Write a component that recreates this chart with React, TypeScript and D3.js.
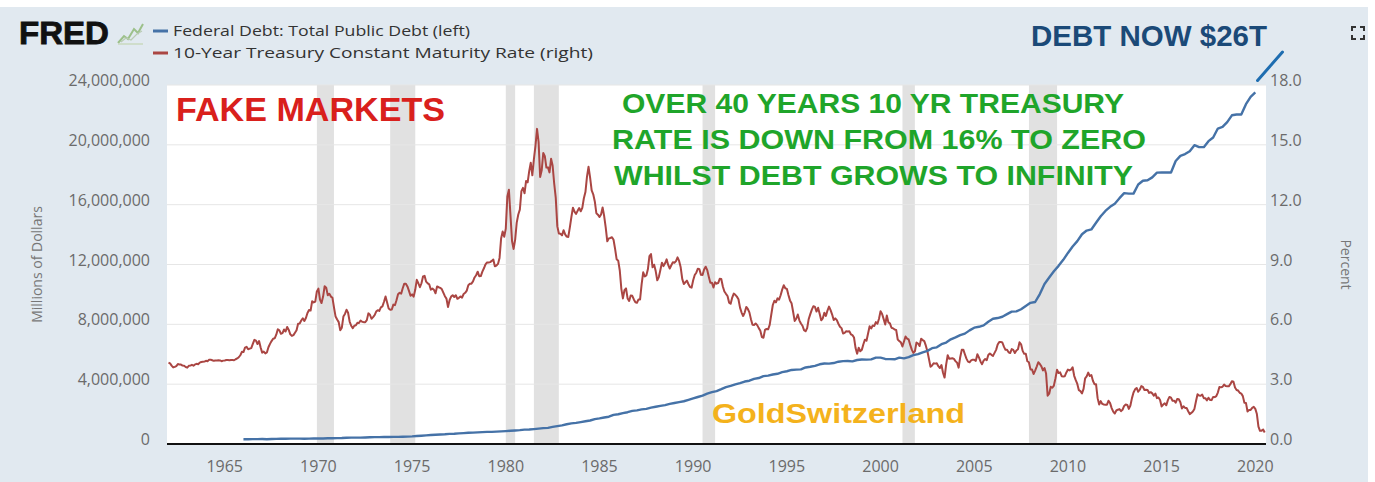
import React from 'react';
import * as d3 from 'd3';

// 10-Year Treasury Constant Maturity Rate, monthly, starting Jan 1962 (percent)
const rateStartYear = 1962;
const rate10y: number[] = [
  4.08,4.04,3.93,3.84,3.87,3.91,4.01,3.98,3.98,3.93,3.92,3.86,
  3.83,3.92,3.93,3.97,3.93,3.99,4.02,4.00,4.08,4.11,4.12,4.13,
  4.17,4.15,4.22,4.23,4.20,4.17,4.19,4.19,4.20,4.19,4.15,4.18,
  4.19,4.21,4.21,4.20,4.21,4.21,4.20,4.25,4.29,4.35,4.45,4.62,
  4.61,4.83,4.87,4.75,4.78,4.81,5.02,5.22,5.18,5.01,5.16,4.84,
  4.58,4.63,4.54,4.59,4.85,5.02,5.16,5.28,5.30,5.48,5.75,5.70,
  5.53,5.56,5.74,5.64,5.87,5.72,5.50,5.42,5.46,5.58,5.70,6.03,
  6.04,6.19,6.30,6.17,6.32,6.57,6.72,6.69,7.16,7.10,7.14,7.65,
  7.79,7.24,7.07,7.39,7.91,7.84,7.46,7.53,7.39,7.33,6.84,6.39,
  6.24,6.11,5.70,5.83,6.39,6.52,6.73,6.58,6.14,5.93,5.81,5.93,
  5.95,6.08,6.07,6.19,6.13,6.11,6.11,6.21,6.55,6.48,6.28,6.36,
  6.46,6.64,6.71,6.67,6.85,6.90,7.13,7.40,7.09,6.79,6.73,6.74,
  6.99,6.96,7.21,7.51,7.58,7.54,7.81,8.04,8.04,7.90,7.68,7.43,
  7.50,7.39,7.73,8.23,8.06,7.86,8.06,8.40,8.43,8.14,8.05,8.00,
  7.74,7.79,7.73,7.56,7.90,7.86,7.83,7.77,7.59,7.41,7.29,6.87,
  7.21,7.39,7.46,7.37,7.46,7.28,7.33,7.40,7.34,7.52,7.58,7.69,
  7.96,8.03,8.04,8.15,8.35,8.46,8.64,8.41,8.42,8.64,8.81,9.01,
  9.10,9.10,9.12,9.18,9.25,8.91,8.95,9.03,9.33,10.30,10.65,10.39,
  10.80,12.41,12.75,11.47,10.18,9.78,10.25,11.10,11.51,11.75,12.68,12.84,
  12.57,13.19,13.12,13.68,14.10,13.47,14.28,14.94,15.80,15.15,13.39,13.72,
  14.59,14.43,13.86,13.87,13.62,14.30,13.95,13.06,12.34,10.91,10.55,10.54,
  10.46,10.72,10.51,10.40,10.38,10.85,11.38,11.85,11.65,11.54,11.69,11.83,
  11.67,11.84,12.32,12.63,13.41,13.90,13.36,12.72,12.52,12.16,11.57,11.50,
  11.38,11.51,11.86,11.43,10.85,10.16,10.31,10.33,10.37,10.24,9.78,9.26,
  9.19,8.70,7.78,7.30,7.71,7.80,7.30,7.17,7.45,7.43,7.25,7.11,
  7.08,7.25,7.25,8.02,8.61,8.40,8.45,8.76,9.42,9.52,8.86,8.99,
  8.67,8.21,8.37,8.72,9.09,8.92,9.06,9.26,8.98,8.80,8.96,9.11,
  9.09,9.17,9.36,9.18,8.86,8.28,8.02,8.11,8.19,8.01,7.87,7.84,
  8.21,8.47,8.59,8.79,8.76,8.48,8.47,8.75,8.89,8.72,8.39,8.08,
  8.09,7.85,8.11,8.04,8.07,8.28,8.27,7.90,7.65,7.53,7.42,7.09,
  7.03,7.34,7.54,7.48,7.39,7.26,6.84,6.59,6.42,6.59,6.87,6.77,
  6.60,6.26,5.98,5.97,6.04,5.96,5.81,5.68,5.36,5.33,5.72,5.77,
  5.75,5.97,6.48,6.97,7.18,7.10,7.30,7.24,7.46,7.74,7.96,7.81,
  7.78,7.47,7.20,7.06,6.63,6.17,6.28,6.49,6.20,6.04,5.93,5.71,
  5.65,5.81,6.27,6.51,6.74,6.91,6.87,6.64,6.83,6.53,6.20,6.30,
  6.58,6.42,6.69,6.89,6.71,6.49,6.22,6.30,6.21,6.03,5.88,5.81,
  5.54,5.57,5.65,5.64,5.65,5.50,5.46,5.34,4.81,4.53,4.83,4.65,
  4.72,5.00,5.23,5.18,5.54,5.90,5.79,5.94,5.92,6.11,6.03,6.28,
  6.66,6.52,6.26,5.99,6.44,6.10,6.05,5.83,5.80,5.74,5.72,5.24,
  5.16,5.10,4.89,5.14,5.39,5.28,5.24,4.97,4.73,4.57,4.65,5.09,
  5.04,4.91,5.28,5.21,5.16,4.93,4.65,4.26,3.87,3.94,4.05,4.03,
  4.05,3.90,3.81,3.96,3.57,3.33,3.98,4.45,4.27,4.29,4.30,4.27,
  4.15,4.08,3.83,4.35,4.72,4.73,4.50,4.28,4.13,4.10,4.19,4.23,
  4.22,4.17,4.50,4.34,4.14,4.00,4.18,4.26,4.20,4.46,4.54,4.47,
  4.42,4.57,4.72,4.99,5.11,5.11,5.09,4.88,4.72,4.73,4.60,4.56,
  4.76,4.72,4.56,4.69,4.75,5.10,5.00,4.67,4.52,4.53,4.15,4.10,
  3.74,3.74,3.51,3.68,3.88,4.10,4.01,3.89,3.69,3.81,3.53,2.42,
  2.52,2.87,2.82,2.93,3.29,3.72,3.56,3.59,3.40,3.39,3.40,3.59,
  3.73,3.69,3.73,3.85,3.42,3.20,3.01,2.70,2.65,2.54,2.76,3.29,
  3.39,3.58,3.41,3.46,3.17,3.00,3.00,2.30,1.98,2.15,2.01,1.98,
  1.97,1.97,2.17,2.05,1.80,1.62,1.53,1.68,1.72,1.75,1.65,1.72,
  1.91,1.98,1.96,1.76,1.93,2.30,2.58,2.74,2.81,2.62,2.72,2.90,
  2.86,2.71,2.72,2.71,2.56,2.60,2.54,2.42,2.53,2.30,2.33,2.21,
  1.88,1.98,2.04,1.94,2.20,2.36,2.32,2.17,2.17,2.07,2.26,2.24,
  2.09,1.78,1.89,1.81,1.81,1.64,1.50,1.56,1.63,1.76,2.14,2.49,
  2.43,2.42,2.48,2.30,2.30,2.19,2.32,2.21,2.20,2.36,2.35,2.40,
  2.58,2.86,2.84,2.87,2.98,2.91,2.89,2.89,3.00,3.15,3.12,2.83,
  2.71,2.68,2.57,2.53,2.40,2.07,2.06,1.63,1.70,1.71,1.81,1.86,
  1.76,1.50,0.87,0.66,0.67,0.73,0.58,
];

// Federal Debt: Total Public Debt, quarterly, starting 1966 Q1 (millions of dollars)
const debtStartYear = 1966;
const debtQuarterly: number[] = [
  321000,316000,324000,329000,
  330000,322000,336000,344000,
  349000,347000,358000,359000,
  362000,353000,360000,368000,
  371000,370000,381000,389000,
  392000,398000,415000,424000,
  428000,427000,437000,449000,
  458000,458000,465000,470000,
  475000,475000,481000,493000,
  509000,533000,556000,577000,
  600000,620000,635000,653000,
  680000,685000,709000,729000,
  750000,758000,780000,797000,
  813000,812000,827000,845000,
  864000,883000,907000,930000,
  964000,970000,998000,1028000,
  1061000,1079000,1142000,1197000,
  1244000,1319000,1377000,1410000,
  1464000,1518000,1572000,1663000,
  1710000,1774000,1823000,1945000,
  1986000,2059000,2125000,2214000,
  2250000,2313000,2350000,2432000,
  2487000,2548000,2602000,2684000,
  2740000,2800000,2857000,2953000,
  3051000,3143000,3233000,3364000,
  3465000,3538000,3665000,3801000,
  3881000,3984000,4065000,4177000,
  4231000,4352000,4411000,4536000,
  4575000,4646000,4693000,4801000,
  4864000,4951000,4974000,4989000,
  5117000,5162000,5225000,5328000,
  5380000,5376000,5413000,5502000,
  5542000,5548000,5526000,5614000,
  5651000,5638000,5656000,5776000,
  5773000,5685000,5674000,5662000,
  5773000,5726000,5807000,5943000,
  6006000,6126000,6228000,6405000,
  6460000,6670000,6783000,6998000,
  7131000,7274000,7379000,7596000,
  7777000,7836000,7933000,8170000,
  8371000,8420000,8507000,8680000,
  8849000,8868000,9007000,9229000,
  9437000,9492000,10025000,10700000,
  11127000,11545000,11910000,12311000,
  12773000,13201000,13561000,14025000,
  14270000,14343000,14790000,15223000,
  15582000,15856000,16066000,16433000,
  16771000,16738000,16738000,17352000,
  17601000,17632000,17824000,18141000,
  18152000,18152000,18151000,18922000,
  19264000,19381000,19573000,19977000,
  19847000,19845000,20245000,20493000,
  21090000,21195000,21516000,21974000,
  22028000,22023000,22719000,23201000,
  23500000,
];

// NBER recessions [start, end] in decimal years
const recessions: [number, number][] = [
  [1969.92, 1970.83], [1973.83, 1975.17], [1980.0, 1980.5], [1981.5, 1982.83],
  [1990.5, 1991.17], [2001.17, 2001.83], [2007.92, 2009.42],
];

const xTicks = [1965, 1970, 1975, 1980, 1985, 1990, 1995, 2000, 2005, 2010, 2015, 2020];
const leftTicks = [0, 4000000, 8000000, 12000000, 16000000, 20000000, 24000000];
const rightTicks = [0, 3, 6, 9, 12, 15, 18];

const legendItems = [
  { label: 'Federal Debt: Total Public Debt (left)', color: '#4572a7' },
  { label: '10-Year Treasury Constant Maturity Rate (right)', color: '#aa4643' },
];

const greenLines = [
  'OVER 40 YEARS 10 YR TREASURY',
  'RATE IS DOWN FROM 16% TO ZERO',
  'WHILST DEBT GROWS TO INFINITY',
];

export default function App() {
  const W = 1375, H = 482;
  const left = 167, right = 1266, top = 85, bottom = 444;

  const x = d3.scaleLinear().domain([1961.92, 2020.57]).range([left, right]);
  const yL = d3.scaleLinear().domain([0, 24000000]).range([bottom, top]);
  const yR = d3.scaleLinear().domain([0, 18]).range([bottom, top]);

  const rateData = rate10y.map((v, i) => ({ t: rateStartYear + i / 12, v }));
  const debtData = debtQuarterly.map((v, i) => ({ t: debtStartYear + i / 4, v }));

  const rateLine = d3.line<{ t: number; v: number }>().x(d => x(d.t)).y(d => yR(d.v));
  const debtLine = d3.line<{ t: number; v: number }>().x(d => x(d.t)).y(d => yL(d.v));

  const tickFont = "'Open Sans', 'Noto Sans', sans-serif";
  const boldFont = "'Liberation Sans', Arial, sans-serif";

  return (
    <svg width={W} height={H} style={{ position: 'fixed', left: 0, top: 0, display: 'block' }}>
      <rect x={0} y={0} width={W} height={H} fill="#ffffff" />
      <rect x={0} y={7} width={1368} height={H - 7} fill="#e1e9f0" />
      <rect x={left} y={top} width={right - left} height={bottom - top} fill="#ffffff" />

      {recessions.map(([a, b], i) => (
        <rect key={i} x={x(a)} y={top} width={x(b) - x(a)} height={bottom - top} fill="#e1e1e1" />
      ))}

      {leftTicks.filter(t => t > 0).map(t => (
        <line key={t} x1={left} x2={right} y1={yL(t)} y2={yL(t)} stroke="#e6e6e6" strokeWidth={1} />
      ))}

      {/* FRED logo */}
      <text x={19} y={44} fontFamily={boldFont} fontWeight={900} fontSize={31} fill="#111" stroke="#111" strokeWidth={0.8} textLength={90} lengthAdjust="spacingAndGlyphs">FRED</text>
      <g>
        <path d="M118,43 L124,36 L128,39 L134,29 L138,33 L143,24" fill="none" stroke="#9cc08a" strokeWidth={2} />
        <path d="M118,44 L143,44" stroke="#c9d9bf" strokeWidth={1.5} />
        <path d="M121,42 L126,38 L131,40 L137,34 L142,31" fill="none" stroke="#b9cbb3" strokeWidth={1.2} />
      </g>

      {/* legend */}
      {legendItems.map((d, i) => (
        <g key={i}>
          <line x1={153} x2={168} y1={31 + i * 22} y2={31 + i * 22} stroke={d.color} strokeWidth={3} />
          <text x={173} y={36 + i * 22} fontFamily={tickFont} fontSize={15} fill="#333"
            textLength={i === 0 ? 297 : 420} lengthAdjust="spacingAndGlyphs">{d.label}</text>
        </g>
      ))}

      {/* axis ticks */}
      {leftTicks.map(t => (
        <text key={t} x={150} y={yL(t) + 1} textAnchor="end" fontFamily={tickFont} fontSize={16} fill="#6b6b6b">{d3.format(',')(t)}</text>
      ))}
      {rightTicks.map(t => (
        <text key={t} x={1270} y={yR(t) + 1} textAnchor="start" fontFamily={tickFont} fontSize={16} fill="#6b6b6b">{d3.format('.1f')(t)}</text>
      ))}
      {xTicks.map(t => (
        <text key={t} x={x(t)} y={472} textAnchor="middle" fontFamily={tickFont} fontSize={16} fill="#6b6b6b">{t}</text>
      ))}
      <text transform={`translate(42,${(top + bottom) / 2}) rotate(-90)`} textAnchor="middle" fontFamily={tickFont} fontSize={14} fill="#777">Millions of Dollars</text>
      <text transform={`translate(1341,${(top + bottom) / 2}) rotate(90)`} textAnchor="middle" fontFamily={tickFont} fontSize={14} fill="#777">Percent</text>

      {/* series */}
      <path d={rateLine(rateData) || ''} fill="none" stroke="#aa4643" strokeWidth={2} strokeLinejoin="round" />
      <path d={debtLine(debtData) || ''} fill="none" stroke="#4572a7" strokeWidth={2.4} strokeLinejoin="round" />

      <line x1={left} x2={right} y1={bottom} y2={bottom} stroke="#111" strokeWidth={2} />

      {/* annotations */}
      <text x={176} y={121} fontFamily={boldFont} fontWeight={700} fontSize={34} fill="#d9201c" textLength={269} lengthAdjust="spacingAndGlyphs">FAKE MARKETS</text>
      {greenLines.map((s, i) => (
        <text key={i} x={[622, 612, 614][i]} y={113 + i * 36} fontFamily={boldFont} fontWeight={700} fontSize={28} fill="#1fa52a"
          textLength={[502, 534, 519][i]} lengthAdjust="spacingAndGlyphs">{s}</text>
      ))}
      <text x={712} y={423} fontFamily={boldFont} fontWeight={700} fontSize={28} fill="#f4b21c" textLength={253} lengthAdjust="spacingAndGlyphs">GoldSwitzerland</text>
      <text x={1031} y={46} fontFamily={boldFont} fontWeight={700} fontSize={30} fill="#1b4a78" textLength={236} lengthAdjust="spacingAndGlyphs">DEBT NOW $26T</text>
      <line x1={x(2020.12)} y1={yL(24300000)} x2={x(2021.45)} y2={yL(26200000)} stroke="#1e6db0" strokeWidth={3} strokeLinecap="round" />

      {/* expand icon */}
      <g stroke="#333" strokeWidth={2} fill="none">
        <path d="M1352,31 V27 H1356" />
        <path d="M1360,27 H1364 V31" />
        <path d="M1352,35 V39 H1356" />
        <path d="M1360,39 H1364 V35" />
      </g>
    </svg>
  );
}
